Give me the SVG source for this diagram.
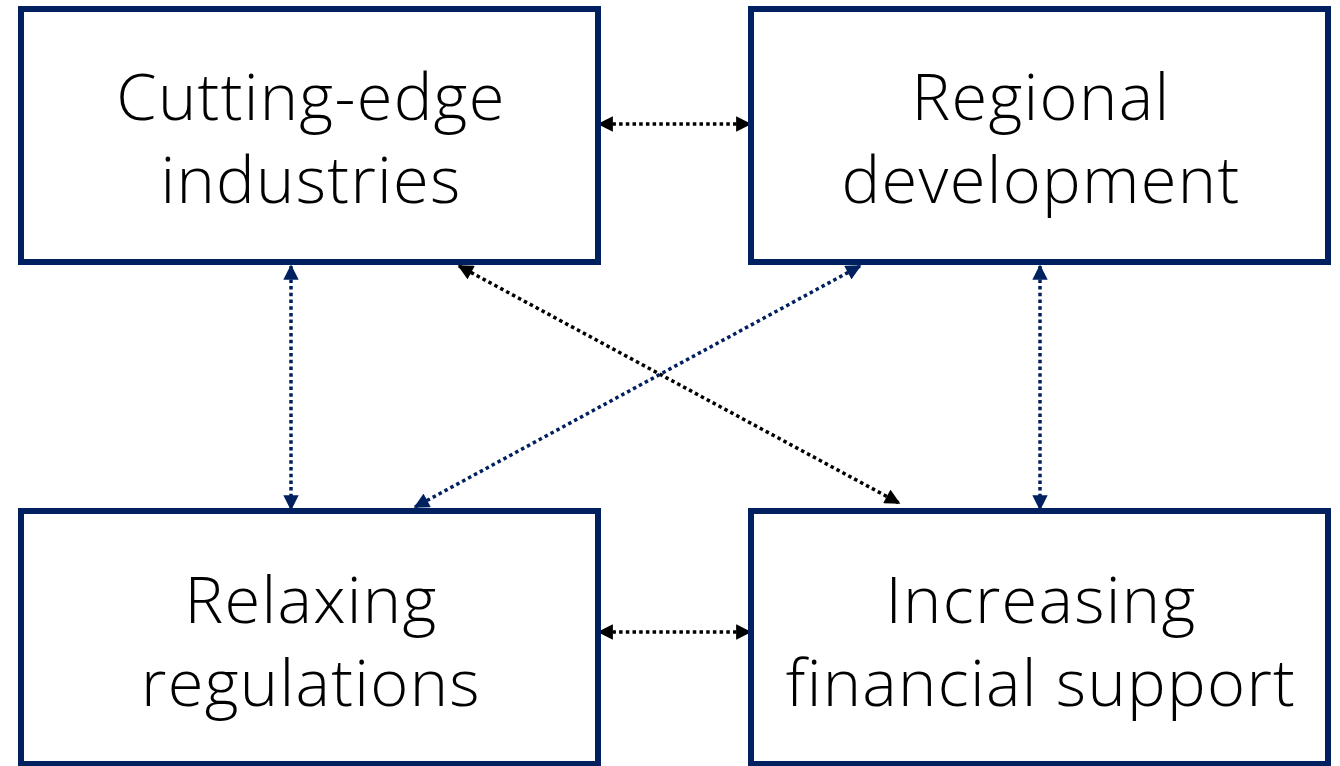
<svg xmlns="http://www.w3.org/2000/svg" width="1340" height="766" viewBox="0 0 1340 766">
  <style>
    .box { fill: #ffffff; stroke: #002060; stroke-width: 6; }
    .label { font-family: "Open Sans", "Noto Sans", "DejaVu Sans", sans-serif; font-size: 65px; font-weight: 300; letter-spacing: 1.3px; fill: #000000; text-anchor: middle; }
    .link { fill: none; stroke-width: 3.5; stroke-dasharray: 3.5 3.2; }
    .black { stroke: #000000; }
    .navy { stroke: #002060; }
  </style>
  <defs>
    <marker id="headBlack" viewBox="0 0 10 10" refX="9" refY="5" markerWidth="4.6" markerHeight="4.4" orient="auto-start-reverse" markerUnits="strokeWidth">
      <path d="M0,0 L10,5 L0,10 Z" fill="#000000"/>
    </marker>
    <marker id="headNavy" viewBox="0 0 10 10" refX="9" refY="5" markerWidth="4.6" markerHeight="4.4" orient="auto-start-reverse" markerUnits="strokeWidth">
      <path d="M0,0 L10,5 L0,10 Z" fill="#002060"/>
    </marker>
  </defs>

  <g id="connectors">
    <line class="link black" x1="599" y1="124" x2="750" y2="124" marker-start="url(#headBlack)" marker-end="url(#headBlack)"/>
    <line class="link black" x1="599" y1="632" x2="750" y2="632" marker-start="url(#headBlack)" marker-end="url(#headBlack)"/>
    <line class="link navy" x1="291" y1="266" x2="291" y2="509" marker-start="url(#headNavy)" marker-end="url(#headNavy)"/>
    <line class="link navy" x1="1040" y1="266" x2="1040" y2="509" marker-start="url(#headNavy)" marker-end="url(#headNavy)"/>
    <line class="link black" x1="459" y1="266" x2="899" y2="503" marker-start="url(#headBlack)" marker-end="url(#headBlack)"/>
    <line class="link navy" x1="860" y1="266" x2="415" y2="507" marker-start="url(#headNavy)" marker-end="url(#headNavy)"/>
  </g>

  <g id="node-cutting-edge">
    <rect class="box" x="21" y="9" width="577" height="253"/>
    <text class="label" x="311" y="120">Cutting-edge</text>
    <text class="label" x="311" y="203">industries</text>
  </g>

  <g id="node-regional">
    <rect class="box" x="751" y="9" width="577" height="253"/>
    <text class="label" x="1041" y="120">Regional</text>
    <text class="label" x="1041" y="203">development</text>
  </g>

  <g id="node-relaxing">
    <rect class="box" x="21" y="511" width="577" height="253"/>
    <text class="label" x="311" y="623">Relaxing</text>
    <text class="label" x="311" y="706">regulations</text>
  </g>

  <g id="node-increasing">
    <rect class="box" x="751" y="511" width="577" height="253"/>
    <text class="label" x="1041" y="623">Increasing</text>
    <text class="label" x="1041" y="706">financial support</text>
  </g>
</svg>
